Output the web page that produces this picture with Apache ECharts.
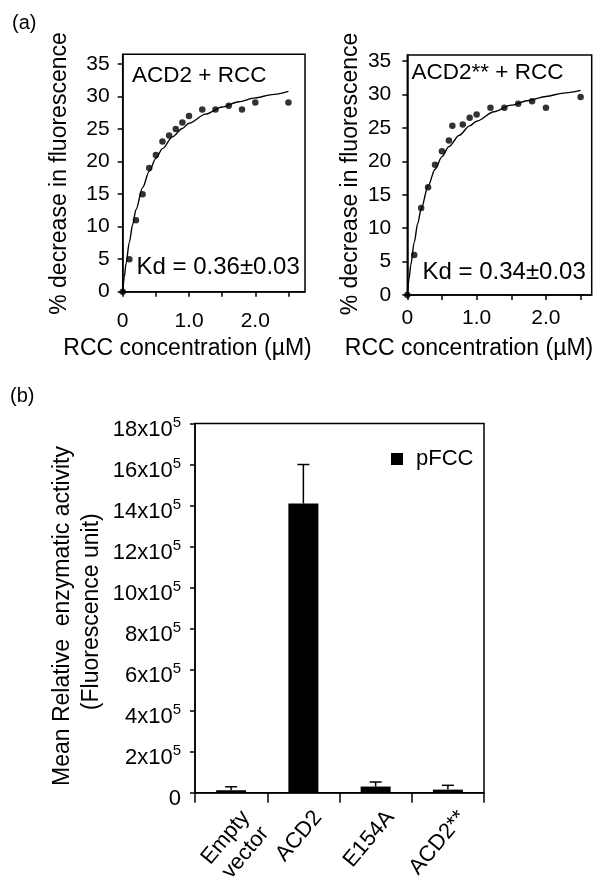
<!DOCTYPE html>
<html><head><meta charset="utf-8">
<script src="https://cdn.jsdelivr.net/npm/echarts@6/dist/echarts.min.js"></script>
<style>html,body{margin:0;padding:0;background:#fff}#c{width:600px;height:891px}</style>
</head><body><div id="c"></div>
<script>
// ---------- Panel (a), left: ACD2 + RCC ----------
const acd2Conc     = [0, 0.1, 0.2, 0.3, 0.4, 0.5, 0.6, 0.7, 0.8, 0.9, 1.0, 1.2, 1.4, 1.6, 1.8, 2.0, 2.5];
const acd2Decrease = [0, 5.0, 11.0, 15.0, 19.0, 21.0, 23.1, 24.0, 25.0, 26.0, 27.0, 28.0, 28.0, 28.6, 28.0, 29.1, 29.1];
// fitted curve
const acd2FitConc  = [0, 0.025, 0.05, 0.1, 0.15, 0.2, 0.3, 0.4, 0.5, 0.6, 0.75, 0.9, 1.0, 1.25, 1.5, 1.75, 2.0, 2.25, 2.5];
const acd2FitVal   = [0, 2.3, 4.3, 7.6, 10.3, 12.6, 16.0, 18.5, 20.5, 22.0, 23.8, 25.1, 25.9, 27.3, 28.4, 29.2, 29.8, 30.3, 30.8];

// ---------- Panel (a), right: ACD2** + RCC ----------
const mutConc      = [0, 0.1, 0.2, 0.3, 0.4, 0.5, 0.6, 0.65, 0.8, 0.9, 1.0, 1.2, 1.4, 1.6, 1.8, 2.0, 2.5];
const mutDecrease  = [0, 6.0, 13.0, 16.1, 19.5, 21.5, 23.1, 25.3, 25.5, 26.5, 27.0, 28.0, 28.0, 28.6, 29.0, 28.0, 29.6];
const mutFitConc   = [0, 0.025, 0.05, 0.1, 0.15, 0.2, 0.3, 0.4, 0.5, 0.6, 0.75, 0.9, 1.0, 1.25, 1.5, 1.75, 2.0, 2.25, 2.5];
const mutFitVal    = [0, 2.4, 4.5, 7.9, 10.7, 12.9, 16.3, 18.8, 20.7, 22.2, 23.9, 25.3, 26.0, 27.4, 28.4, 29.1, 29.7, 30.2, 30.6];

const aYTicks  = [0, 5, 10, 15, 20, 25, 30, 35];
const aXTicks  = [0, 0.5, 1.0, 1.5, 2.0, 2.5];
const aXLabelValues = [0, 1, 2];
const aXLabelText   = ['0', '1.0', '2.0'];

// ---------- Panel (b) ----------
const bCategories = ['Empty\nvector', 'ACD2', 'E154A', 'ACD2**'];
const bMeans      = [12000, 1410000, 30000, 15000];
const bErrors     = [17000, 190000, 22000, 21000];
const bYTicks     = [0, 200000, 400000, 600000, 800000, 1000000, 1200000, 1400000, 1600000, 1800000];
const bSeriesName = 'pFCC';

const FONT = 'Liberation Sans, Arial, Helvetica, sans-serif';
const black = '#000';

function aAxes(gridIndex, xMax, yMax, xMargin, yMargin) {
  return {
    x: {
      type: 'value', gridIndex, min: 0, max: xMax,
      axisLine: { show: true, onZero: false, lineStyle: { color: black, width: 1.5 } },
      axisTick: { show: true, length: 5, lineStyle: { color: black, width: 1.5 }, customValues: aXTicks },
      axisLabel: {
        customValues: aXLabelValues, margin: xMargin,
        fontFamily: FONT, fontSize: 21, color: black,
        formatter: v => { const i = aXLabelValues.indexOf(v); return i >= 0 ? aXLabelText[i] : ''; }
      },
      splitLine: { show: false }
    },
    y: {
      type: 'value', gridIndex, min: 0, max: yMax,
      axisLine: { show: true, onZero: false, lineStyle: { color: black, width: 1.5 } },
      axisTick: { show: true, length: 5, lineStyle: { color: black, width: 1.5 }, customValues: aYTicks },
      axisLabel: { customValues: aYTicks, margin: yMargin, fontFamily: FONT, fontSize: 21, color: black },
      splitLine: { show: false }
    }
  };
}

const left = aAxes(0, 2.75, 36.5, 19, 13);
const right = aAxes(1, 2.66, 35.9, 13, 16);

const chart = echarts.init(document.getElementById('c'), null, { renderer: 'canvas' });

function txt(text, x, y, size, opts) {
  opts = opts || {};
  return {
    type: 'text', x, y, rotation: opts.rotation || 0,
    style: { text, fontFamily: FONT, fontSize: size, fill: black,
      align: opts.align || 'left', verticalAlign: 'middle' }
  };
}
const V = { rotation: Math.PI / 2, align: 'center' };
const C = { align: 'center' };

const option = {
  backgroundColor: '#fff',
  animation: false,
  textStyle: { fontFamily: FONT },
  grid: [
    { left: 122.7, top: 54.3, width: 182.3, height: 237.4, show: true, borderColor: black, borderWidth: 1.5, backgroundColor: 'transparent' },
    { left: 407.3, top: 55, width: 184.4, height: 240, show: true, borderColor: black, borderWidth: 1.5, backgroundColor: 'transparent' },
    { left: 195, top: 423.5, width: 289, height: 369.2, show: true, borderColor: black, borderWidth: 1.5, backgroundColor: 'transparent' }
  ],
  xAxis: [
    left.x, right.x,
    {
      type: 'category', gridIndex: 2, data: bCategories,
      axisLine: { lineStyle: { color: black, width: 1.5 } },
      axisTick: { show: true, length: 10, interval: 0, lineStyle: { color: black, width: 1.5 } },
      axisLabel: { show: false }
    }
  ],
  yAxis: [
    left.y, right.y,
    {
      type: 'value', gridIndex: 2, min: 0, max: 1800000, interval: 200000,
      axisLine: { show: true, lineStyle: { color: black, width: 1.5 } },
      axisTick: { show: true, length: 5, lineStyle: { color: black, width: 1.5 } },
      axisLabel: {
        margin: 14, color: black, fontFamily: FONT, fontSize: 22, padding: [12, 0, 0, 0],
        formatter: v => v === 0 ? '{m|0}' : '{m|' + (v / 100000) + 'x10}{s|5}',
        rich: {
          m: { fontFamily: FONT, fontSize: 22, color: black },
          s: { fontFamily: FONT, fontSize: 15, color: black, padding: [0, 0, 13, 0] }
        }
      },
      splitLine: { show: false }
    }
  ],
  legend: {
    data: [bSeriesName], left: 386, top: 443, icon: 'rect', itemWidth: 12, itemHeight: 12,
    textStyle: { fontFamily: FONT, fontSize: 22, color: black, padding: [0, 0, 0, 8] },
    itemStyle: { color: black }
  },
  series: [
    { type: 'line', xAxisIndex: 0, yAxisIndex: 0, data: acd2FitConc.map((x, i) => [x, acd2FitVal[i]]),
      smooth: 0.3, smoothMonotone: 'x', showSymbol: false, lineStyle: { color: black, width: 1.4 }, silent: true },
    { type: 'scatter', xAxisIndex: 0, yAxisIndex: 0, data: acd2Conc.map((x, i) => [x, acd2Decrease[i]]),
      symbol: 'circle', symbolSize: 6.5, itemStyle: { color: black } },
    { type: 'line', xAxisIndex: 1, yAxisIndex: 1, data: mutFitConc.map((x, i) => [x, mutFitVal[i]]),
      smooth: 0.3, smoothMonotone: 'x', showSymbol: false, lineStyle: { color: black, width: 1.4 }, silent: true },
    { type: 'scatter', xAxisIndex: 1, yAxisIndex: 1, data: mutConc.map((x, i) => [x, mutDecrease[i]]),
      symbol: 'circle', symbolSize: 6.5, itemStyle: { color: black } },
    { name: bSeriesName, type: 'bar', xAxisIndex: 2, yAxisIndex: 2, data: bMeans, barWidth: 30,
      itemStyle: { color: black } },
    { type: 'custom', xAxisIndex: 2, yAxisIndex: 2, z: 5,
      data: bMeans.map((m, i) => [i, m, m + bErrors[i]]),
      encode: { x: 0, y: [1, 2] },
      renderItem: (params, api) => {
        const i = api.value(0);
        const lo = api.coord([i, api.value(1)]);
        const hi = api.coord([i, api.value(2)]);
        const hw = 6;
        return { type: 'group', children: [
          { type: 'line', shape: { x1: lo[0], y1: lo[1], x2: hi[0], y2: hi[1] }, style: { stroke: black, lineWidth: 1.5 } },
          { type: 'line', shape: { x1: hi[0] - hw, y1: hi[1], x2: hi[0] + hw, y2: hi[1] }, style: { stroke: black, lineWidth: 1.5 } }
        ] };
      }
    }
  ],
  graphic: [
    txt('(a)', 12, 23, 20),
    txt('(b)', 10, 396, 20),
    txt('% decrease in fluorescence', 60, 173.5, 23, V),
    txt('% decrease in fluorescence', 351, 174, 23, V),
    txt('RCC concentration (µM)', 187.5, 349, 23, C),
    txt('RCC concentration (µM)', 469, 349, 23, C),
    txt('ACD2 + RCC', 132, 75.5, 22.5),
    txt('ACD2** + RCC', 411.5, 72.5, 22.5),
    txt('Kd = 0.36\u00b10.03', 136.5, 267.5, 24),
    txt('Kd = 0.34\u00b10.03', 422.5, 272.3, 24),
    txt('Mean Relative  enzymatic activity', 63, 616, 23, V),
    txt('(Fluorescence unit)', 92, 611.7, 23, V)
  ]
};
chart.setOption(option);

// rotated category labels, placed from the category axis scale
const y0 = chart.convertToPixel({ yAxisIndex: 2 }, 0);
const ang = 50 * Math.PI / 180;
const catLabels = bCategories.map((c, i) => {
  const x = chart.convertToPixel({ xAxisIndex: 2 }, i);
  return {
    type: 'text', x: x + 5, y: y0 + 13, rotation: ang,
    style: { text: c, fontFamily: FONT, fontSize: 22, fill: black, align: 'right', verticalAlign: 'top', lineHeight: 25 }
  };
});
chart.setOption({ graphic: option.graphic.concat(catLabels) });
</script>
</body></html>
